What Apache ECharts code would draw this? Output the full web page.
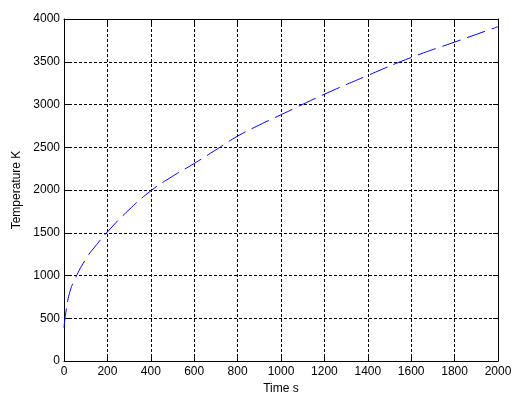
<!DOCTYPE html>
<html>
<head>
<meta charset="utf-8">
<script src="https://cdn.jsdelivr.net/npm/echarts@6/dist/echarts.min.js"></script>
<style>
html,body{margin:0;padding:0;background:#fff;}
#chart{width:523px;height:403px;}
</style>
</head>
<body>
<div id="chart"></div>
<script>
const timeValues = [0, 5, 10, 25, 50, 100, 150, 200, 300, 400, 500, 600, 700, 800, 900, 1000, 1200, 1400, 1600, 1800, 2000];
const temperatureValues = [390, 510, 590, 790, 955, 1190, 1360, 1510, 1770, 1990, 2160, 2310, 2470, 2630, 2760, 2880, 3120, 3340, 3550, 3730, 3910];
const xTicks = [0, 200, 400, 600, 800, 1000, 1200, 1400, 1600, 1800, 2000];
const yTicks = [0, 500, 1000, 1500, 2000, 2500, 3000, 3500, 4000];

const font = 'Liberation Sans, Arial, sans-serif';
const chart = echarts.init(document.getElementById('chart'), null, {renderer: 'canvas'});
const pts = timeValues.map((t, i) => [t, temperatureValues[i]]);

const gridLine = {show: true, lineStyle: {color: '#000', width: 1, type: [3, 2]}};
const tick = {show: true, inside: true, length: 5, lineStyle: {color: '#000', width: 1}};
const axLine = {show: true, onZero: false, lineStyle: {color: '#000', width: 1}};
const lbl = {color: '#000', fontSize: 12, fontFamily: font, formatter: v => String(v)};

chart.setOption({
  backgroundColor: '#fff',
  animation: false,
  grid: {left: 64, right: 25, top: 19, bottom: 42, containLabel: false},
  xAxis: [{
    type: 'value', min: xTicks[0], max: xTicks[xTicks.length - 1], interval: 200,
    name: 'Time s', nameLocation: 'middle', nameGap: 21,
    nameTextStyle: {color: '#000', fontSize: 12, fontFamily: font},
    axisLine: axLine, axisTick: tick, splitLine: gridLine,
    axisLabel: Object.assign({margin: 5}, lbl)
  }, {
    type: 'value', position: 'top', min: xTicks[0], max: xTicks[xTicks.length - 1], interval: 200,
    axisLine: axLine, axisTick: tick, splitLine: {show: false}, axisLabel: {show: false}
  }],
  yAxis: [{
    type: 'value', min: yTicks[0], max: yTicks[yTicks.length - 1], interval: 500,
    name: 'Temperature K', nameLocation: 'middle', nameGap: 38,
    nameTextStyle: {color: '#000', fontSize: 12, fontFamily: font},
    axisLine: axLine, axisTick: tick, splitLine: gridLine,
    axisLabel: Object.assign({margin: 4}, lbl)
  }, {
    type: 'value', position: 'right', min: yTicks[0], max: yTicks[yTicks.length - 1], interval: 500,
    axisLine: axLine, axisTick: tick, splitLine: {show: false}, axisLabel: {show: false}
  }],
  series: [{
    type: 'line', data: pts, smooth: true, showSymbol: false, symbol: 'none',
    lineStyle: {color: '#0000ff', width: 1, type: [19, 7]}
  }]
});
</script>
</body>
</html>
